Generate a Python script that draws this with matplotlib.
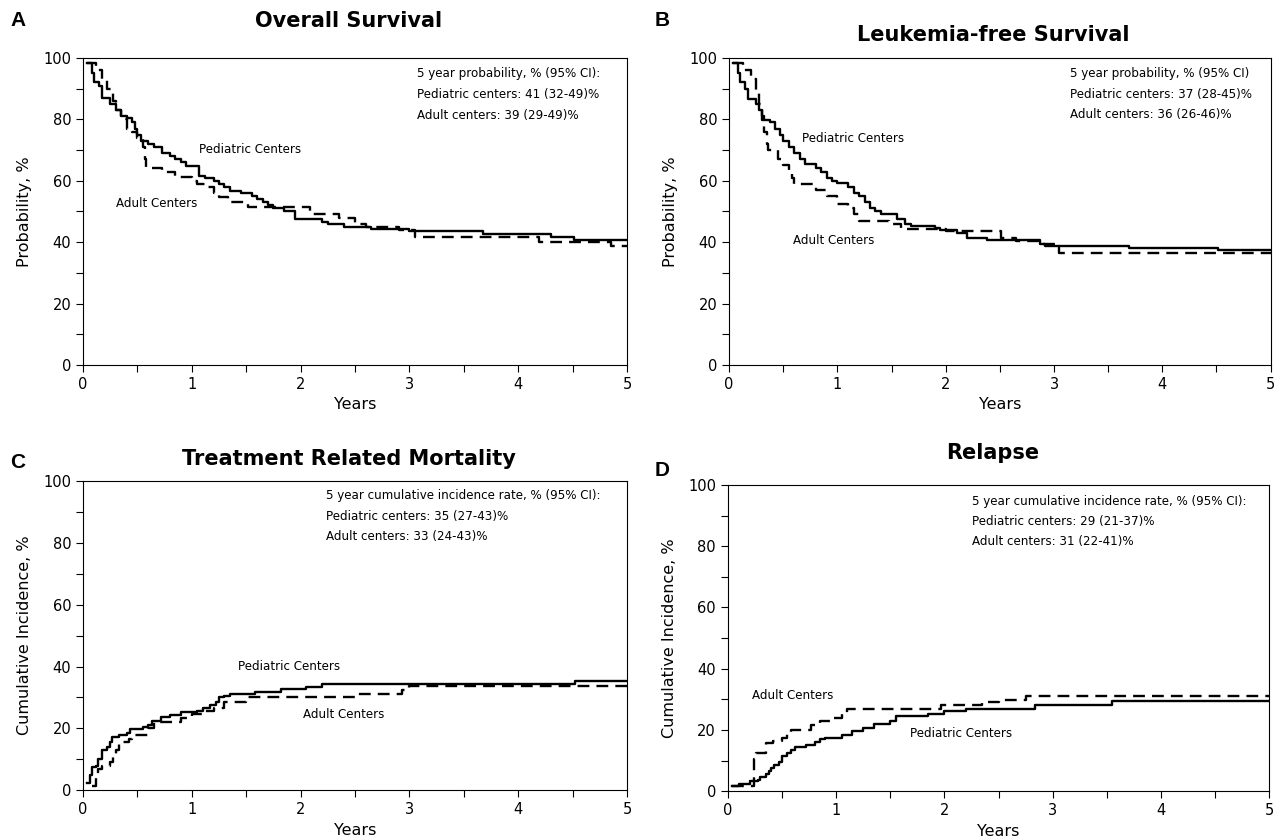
import numpy as np
import matplotlib.pyplot as plt
from matplotlib.ticker import MultipleLocator

plt.rcParams["font.family"] = ["DejaVu Sans"]

# A - overall survival
os_ped_t = [0.04, 0.08, 0.10, 0.15, 0.17, 0.22, 0.25, 0.30, 0.35, 0.40, 0.45, 0.48, 0.50, 0.53, 0.60, 0.65, 0.73, 0.80,
            0.85, 0.90, 0.95, 1.07, 1.12, 1.20, 1.25, 1.30, 1.35, 1.45, 1.55, 1.60, 1.65, 1.70, 1.75, 1.85, 1.95, 2.20,
            2.25, 2.40, 2.65, 3.00, 3.68, 4.30, 4.51, 5.00]
os_ped_s = [98.4, 95, 92.3, 91, 87, 87, 85, 83, 81, 80.3, 79, 77, 75, 72.8, 72, 71, 69, 68,
            67, 66, 64.7, 61.5, 61, 60, 59, 58, 56.5, 56, 55, 54, 53, 52, 51, 50, 47.5, 46.5,
            45.9, 44.8, 44.4, 43.5, 42.6, 41.8, 40.8, 40.8]
os_adu_t = [0.04, 0.12, 0.17, 0.22, 0.28, 0.30, 0.35, 0.40, 0.45, 0.50, 0.55, 0.57, 0.58, 0.73, 0.85, 1.00, 1.05, 1.15,
            1.20, 1.25, 1.33, 1.52, 2.09, 2.35, 2.50, 2.60, 2.90, 3.05, 4.19, 4.85, 5.00]
os_adu_s = [98.4, 96, 93, 90, 86, 83, 80, 77, 76, 74, 71, 67, 64.3, 63, 61.2, 60, 59, 58,
            56, 54.6, 53, 51.4, 49.2, 48, 46, 45, 44, 41.8, 40.2, 38.8, 38.8]

# B - leukemia-free survival
lfs_ped_t = [0.04, 0.08, 0.10, 0.15, 0.17, 0.25, 0.28, 0.30, 0.38, 0.42, 0.47, 0.50, 0.55, 0.60, 0.65, 0.70, 0.80, 0.85,
             0.90, 0.95, 1.00, 1.10, 1.15, 1.20, 1.25, 1.30, 1.35, 1.40, 1.55, 1.62, 1.68, 1.90, 1.95, 2.10, 2.20, 2.38,
             2.87, 2.92, 3.69, 4.51, 5.00]
lfs_ped_s = [98.4, 95, 92, 90, 86.5, 85, 83, 79.8, 79, 77, 75, 73, 71, 69, 67, 65.4, 64, 63,
             61, 60, 59.4, 58, 56, 55, 53, 51, 50, 49, 47.5, 46, 45.2, 44.5, 44, 43, 41.4, 40.6,
             39.5, 38.9, 38.1, 37.3, 37.3]
lfs_adu_t = [0.04, 0.13, 0.20, 0.25, 0.28, 0.30, 0.32, 0.35, 0.36, 0.45, 0.50, 0.55, 0.58, 0.60, 0.80, 0.90, 1.00, 1.10,
             1.15, 1.20, 1.48, 1.59, 2.00, 2.51, 2.65, 2.85, 3.05, 5.00]
lfs_adu_s = [98.4, 96, 93, 89, 85, 81, 76, 72, 69.9, 67, 65, 63, 61, 59, 57, 55, 52.5, 51,
             49, 47, 45.8, 44.3, 43.6, 41.2, 40.3, 39.5, 36.5, 36.5]

# C - treatment related mortality
trm_ped_t = [0.04, 0.06, 0.08, 0.12, 0.14, 0.17, 0.22, 0.25, 0.27, 0.33, 0.40, 0.43, 0.55, 0.60, 0.63, 0.72, 0.80, 0.90,
             1.05, 1.10, 1.17, 1.22, 1.25, 1.30, 1.35, 1.58, 1.82, 2.05, 2.20, 4.52, 5.00]
trm_ped_s = [2.5, 5, 7.5, 8, 10, 12.9, 14, 15.5, 17.3, 18, 18.5, 19.8, 20.5, 21, 22.5, 23.6, 24.3, 25.2,
             25.5, 26.5, 27.5, 28.5, 30.1, 30.5, 31.2, 31.8, 32.8, 33.5, 34.2, 35.2, 35.2]
trm_adu_t = [0.08, 0.12, 0.14, 0.17, 0.25, 0.28, 0.30, 0.33, 0.42, 0.45, 0.60, 0.65, 0.78, 0.90, 1.00, 1.10, 1.20, 1.30,
             1.50, 2.50, 2.93, 3.00, 5.00]
trm_adu_s = [1.5, 4, 7, 8, 9, 11, 13, 15.5, 16.5, 17.9, 20, 22, 22.2, 23.5, 24.5, 25.5, 26.5, 28.5,
             30.1, 31.2, 32.5, 33.7, 33.7]

# D - relapse
rel_ped_t = [0.04, 0.10, 0.20, 0.28, 0.30, 0.35, 0.38, 0.40, 0.43, 0.47, 0.50, 0.55, 0.58, 0.62, 0.72, 0.80, 0.85, 0.90,
             1.05, 1.15, 1.25, 1.35, 1.50, 1.55, 1.85, 2.00, 2.20, 2.84, 3.55, 5.00]
rel_ped_s = [1.7, 2.4, 3.2, 3.5, 4.5, 5.5, 6.5, 7.5, 8.5, 9.5, 11.4, 12.5, 13.5, 14.4, 15.2, 16, 17, 17.4,
             18.3, 19.5, 20.6, 22, 23, 24.4, 25.2, 26.1, 26.8, 28.3, 29.3, 29.3]
rel_adu_t = [0.04, 0.24, 0.26, 0.35, 0.42, 0.50, 0.55, 0.58, 0.77, 0.85, 0.95, 1.05, 1.10, 1.97, 2.35, 2.50, 2.75, 5.00]
rel_adu_s = [1.7, 10.5, 12.5, 15.8, 16.5, 17.5, 19, 20, 21.5, 23, 23.8, 25.5, 26.8, 28, 29.2, 29.8, 31.2, 31.2]

panels = [
    ("A", "Overall Survival", "Probability, %", os_ped_t, os_ped_s, os_adu_t, os_adu_s,
     ["5 year probability, % (95% CI):", "Pediatric centers: 41 (32-49)%", "Adult centers: 39 (29-49)%"],
     (3.07, [94.9, 88.0, 81.4]), (1.07, 70.3), (0.30, 52.7)),
    ("B", "Leukemia-free Survival", "Probability, %", lfs_ped_t, lfs_ped_s, lfs_adu_t, lfs_adu_s,
     ["5 year probability, % (95% CI)", "Pediatric centers: 37 (28-45)%", "Adult centers: 36 (26-46)%"],
     (3.15, [94.8, 88.2, 81.5]), (0.67, 73.9), (0.59, 40.5)),
    ("C", "Treatment Related Mortality", "Cumulative Incidence, %", trm_ped_t, trm_ped_s, trm_adu_t, trm_adu_s,
     ["5 year cumulative incidence rate, % (95% CI):", "Pediatric centers: 35 (27-43)%", "Adult centers: 33 (24-43)%"],
     (2.23, [95.3, 88.6, 82.0]), (1.42, 40.1), (2.02, 24.5)),
    ("D", "Relapse", "Cumulative Incidence, %", rel_ped_t, rel_ped_s, rel_adu_t, rel_adu_s,
     ["5 year cumulative incidence rate, % (95% CI):", "Pediatric centers: 29 (21-37)%", "Adult centers: 31 (22-41)%"],
     (2.25, [94.6, 88.1, 81.5]), (1.68, 18.7), (0.22, 31.4)),
]

# axes rectangles in figure fractions (left, bottom, width, height)
rects = [(0.065, 0.565, 0.426, 0.366), (0.571, 0.565, 0.424, 0.366),
         (0.065, 0.058, 0.426, 0.369), (0.570, 0.057, 0.424, 0.365)]
letter_pos = [(0.008, 0.976), (0.513, 0.976), (0.008, 0.449), (0.513, 0.439)]
title_y = [0.975, 0.958, 0.453, 0.46]

fig = plt.figure(figsize=(12.77, 8.39), dpi=100)

for i, (letter, title, ylab, pt, ps, at, as_, notes, notepos, pedpos, adupos) in enumerate(panels):
    ax = fig.add_axes(rects[i])
    ax.step(pt, ps, where="post", color="black", lw=1.7)
    ax.step(at, as_, where="post", color="black", lw=1.7, linestyle=(0, (5, 3)))
    ax.set_xlim(0, 5)
    ax.set_ylim(0, 100)
    ax.xaxis.set_major_locator(MultipleLocator(1))
    ax.xaxis.set_minor_locator(MultipleLocator(0.5))
    ax.yaxis.set_major_locator(MultipleLocator(20))
    ax.yaxis.set_minor_locator(MultipleLocator(10))
    ax.tick_params(which="both", direction="out", labelsize=10.5, width=0.8, length=5)
    for sp in ax.spines.values():
        sp.set_linewidth(0.8)
    ax.set_xlabel("Years", fontsize=11.5, labelpad=4)
    ax.set_ylabel(ylab, fontsize=11.5, labelpad=8)
    for txt, yy in zip(notes, notepos[1]):
        ax.text(notepos[0], yy, txt, fontsize=8.6, va="center", ha="left")
    ax.text(pedpos[0], pedpos[1], "Pediatric Centers", fontsize=8.6, va="center", ha="left")
    ax.text(adupos[0], adupos[1], "Adult Centers", fontsize=8.6, va="center", ha="left")
    cx = rects[i][0] + rects[i][2] / 2 - 0.005
    fig.text(cx, title_y[i], title, fontsize=15, fontweight="bold", ha="center", va="center")
    fig.text(letter_pos[i][0], letter_pos[i][1], letter, fontsize=15, fontweight="bold",
             ha="left", va="center", family="Liberation Sans")

fig.savefig("out.png", dpi=100)
